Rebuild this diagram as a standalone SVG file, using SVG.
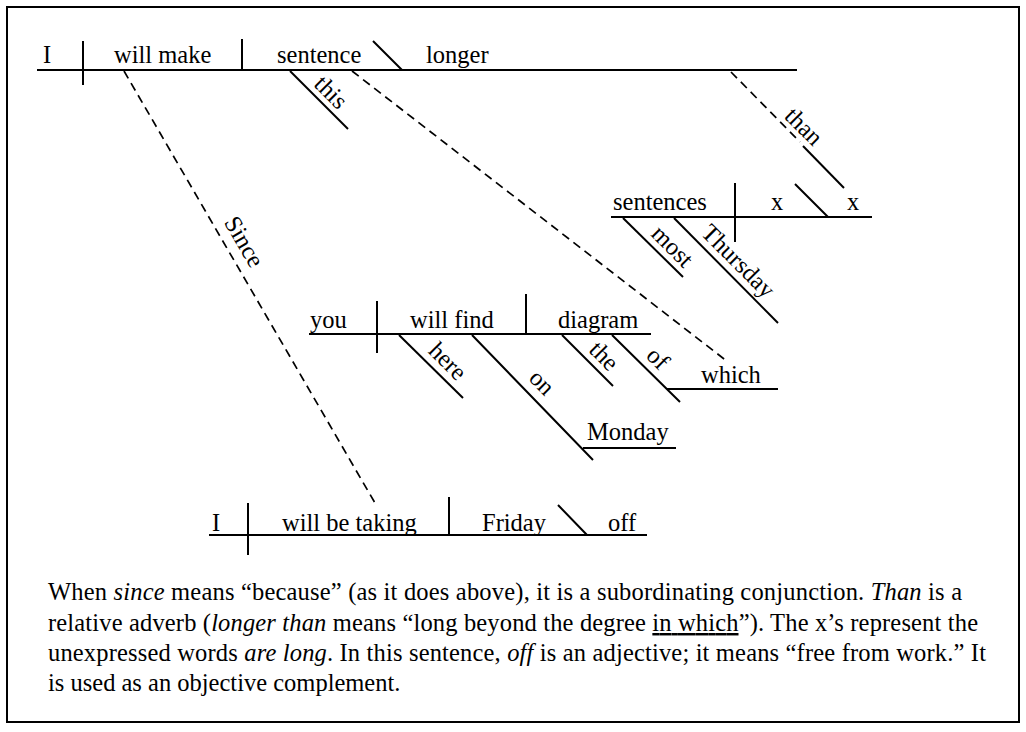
<svg xmlns="http://www.w3.org/2000/svg" width="1026" height="732" viewBox="0 0 1026 732">
<style>
.w{font-family:"Liberation Serif","Times New Roman",serif;font-size:24.5px;fill:#000}
.c{font-family:"Liberation Serif","Times New Roman",serif;font-size:24.5px;fill:#000}
.i{font-style:italic}
.l{stroke:#000;stroke-width:2;fill:none;stroke-linecap:butt}
.d{stroke:#000;stroke-width:1.7;fill:none;stroke-dasharray:8.5 5.5}
</style>
<rect x="7" y="7" width="1012" height="715" fill="#fff" stroke="#000" stroke-width="2"/>

<g id="main-clause">
<path class="l" d="M37,70H797M83,41V85M242,39V70M373,41L402,70"/>
<text class="w" x="43" y="63">I</text>
<text class="w" x="114" y="63">will make</text>
<text class="w" x="277" y="63">sentence</text>
<text class="w" x="426" y="63">longer</text>
</g>
<g id="mod-this">
<path class="l" d="M290,71L348,129"/>
<text class="w" text-anchor="middle" transform="translate(290,71) rotate(45)" x="44" y="-6">this</text>
</g>

<g id="than-clause">
<path class="l" d="M611,217H872M735,183V242M795,184L828,217"/>
<text class="w" x="613" y="210">sentences</text>
<text class="w" x="771" y="210">x</text>
<text class="w" x="847" y="210">x</text>
</g>
<g id="mod-most">
<path class="l" d="M623,218L683,277"/>
<text class="w" text-anchor="middle" transform="translate(623,218) rotate(45)" x="55" y="-7">most</text>
</g>
<g id="mod-thursday">
<path class="l" d="M674,218L778,323"/>
<text class="w" text-anchor="middle" transform="translate(674,218) rotate(45)" x="76" y="-7">Thursday</text>
</g>
<g id="mod-than-line">
<path class="l" d="M803,146L844,188"/>
</g>

<g id="which-clause">
<path class="l" d="M309,334H651M377,301V353M526,294V334"/>
<text class="w" x="310" y="328">you</text>
<text class="w" x="410" y="328">will find</text>
<text class="w" x="558" y="328">diagram</text>
</g>
<g id="mod-here">
<path class="l" d="M399,335L463,398"/>
<text class="w" text-anchor="middle" transform="translate(399,335) rotate(45)" x="53" y="-8">here</text>
</g>
<g id="mod-on-monday">
<path class="l" d="M472,335L593,460M583,448H676"/>
<text class="w" text-anchor="middle" transform="translate(472,335) rotate(45)" x="83" y="-8">on</text>
<text class="w" x="587" y="440">Monday</text>
</g>
<g id="mod-the">
<path class="l" d="M562,335L613,386"/>
<text class="w" text-anchor="middle" transform="translate(562,335) rotate(45)" x="44.5" y="-7">the</text>
</g>
<g id="mod-of-which">
<path class="l" d="M612,335L680,402M667,389H778"/>
<text class="w" text-anchor="middle" transform="translate(612,335) rotate(45)" x="49" y="-8">of</text>
<text class="w" x="701" y="383">which</text>
</g>

<g id="since-clause">
<path class="l" d="M209,535H647M248,503V555M449,497V535M558,505L587,535"/>
<text class="w" x="212" y="531">I</text>
<text class="w" x="282" y="531">will be taking</text>
<text class="w" x="482" y="531">Friday</text>
<text class="w" x="608" y="531">off</text>
</g>

<g id="connectors">
<path class="d" d="M124,71L375,503"/>
<text class="w" text-anchor="middle" transform="translate(124,71) rotate(59.8)" x="208" y="-10">Since</text>
<path class="d" d="M352,71L728,362"/>
<path class="d" d="M731,72L800,142"/>
<text class="w" text-anchor="middle" transform="translate(731,72) rotate(45)" x="90" y="-5">than</text>
</g>

<g id="caption">
<text class="c" x="48" y="600" textLength="914" lengthAdjust="spacing">When <tspan class="i">since</tspan> means “because” (as it does above), it is a subordinating conjunction. <tspan class="i">Than</tspan> is a</text>
<text class="c" x="48" y="631" textLength="930" lengthAdjust="spacing">relative adverb (<tspan class="i">longer than</tspan> means “long beyond the degree <tspan text-decoration="underline">in which</tspan>”). The x’s represent the</text>
<text class="c" x="48" y="661" textLength="938" lengthAdjust="spacing">unexpressed words <tspan class="i">are long</tspan>. In this sentence, <tspan class="i">off</tspan> is an adjective; it means “free from work.” It</text>
<text class="c" x="48" y="691">is used as an objective complement.</text>
</g>
</svg>
